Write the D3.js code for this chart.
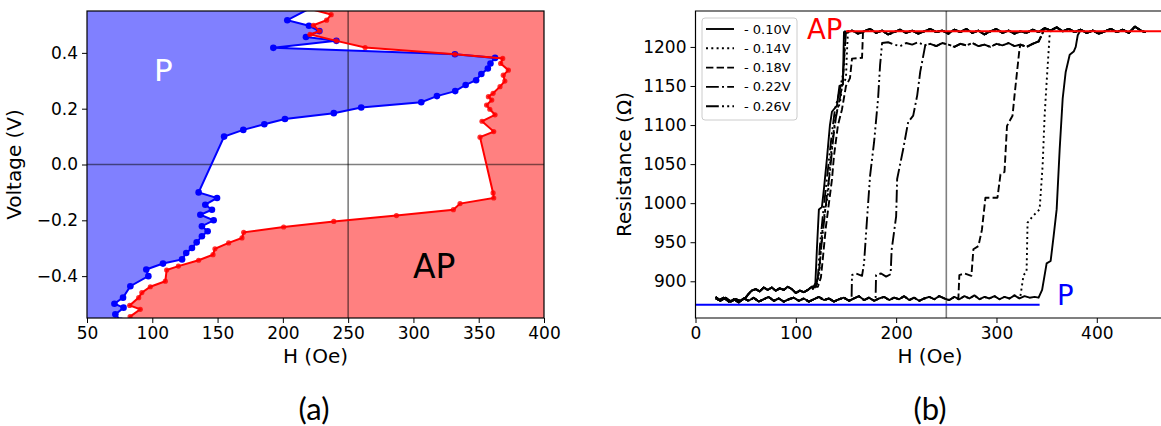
<!DOCTYPE html>
<html><head><meta charset="utf-8">
<script src="https://cdn.jsdelivr.net/npm/d3@7"></script>
<style>
html,body{margin:0;padding:0;background:#fff;}
svg text{font-family:"DejaVu Sans",sans-serif;}
</style></head>
<body>
<svg id="chart" width="1161" height="426"></svg>
<script>
// ---------- Panel (a) data: switching boundaries [H (Oe), V (V)] ----------
const pBoundary = [
  [223,0.565],[203.4,0.517],[220,0.497],[228,0.478],[217.7,0.457],[241,0.443],[192.7,0.418],
  [331.8,0.395],[362.5,0.382],[359,0.362],[357,0.344],[352,0.324],[348,0.302],[340,0.285],
  [332,0.263],[318,0.245],[306,0.223],[260,0.204],[239,0.184],[201.6,0.163],[185.8,0.144],
  [169.7,0.124],[155,0.100],[135.5,-0.100],[149.6,-0.12],[140.6,-0.144],[145.7,-0.162],
  [136.8,-0.18],[147,-0.2],[138,-0.221],[142.4,-0.239],[138,-0.257],[134,-0.279],[130.4,-0.299],
  [126,-0.317],[122.8,-0.340],[108.2,-0.355],[95.4,-0.376],[97,-0.40],[83.2,-0.436],
  [77.6,-0.477],[71,-0.499],[78,-0.513],[71.7,-0.537],[76,-0.56]
];
const apBoundary = [
  [215,0.565],[237,0.537],[233.5,0.517],[223.4,0.499],[228,0.478],[220.8,0.466],[241,0.443],
  [263,0.419],[331.8,0.395],[368.4,0.38],[366.8,0.362],[372.7,0.338],[368.8,0.32],[370,0.299],
  [366.3,0.279],[361,0.255],[357.4,0.243],[360,0.231],[356,0.213],[358.5,0.198],[362.5,0.178],
  [352.5,0.155],[361.5,0.118],[351,0.098],[361,-0.102],[361.5,-0.12],[335.7,-0.14],[330.6,-0.162],
  [287,-0.183],[239,-0.204],[200.6,-0.224],[170,-0.243],[168.7,-0.263],[158.5,-0.281],[148,-0.302],
  [146.5,-0.323],[135.5,-0.343],[120,-0.364],[111,-0.378],[110,-0.418],[98.5,-0.438],[92,-0.459],
  [89.6,-0.477],[82.7,-0.505],[90.8,-0.519],[83,-0.545],[86,-0.57]
];
const xTicksA = [50,100,150,200,250,300,350,400];
const yTicksA = [-0.4,-0.2,0.0,0.2,0.4];

// ---------- Panel (b) data: R (Ohm) vs H (Oe) ----------
const legendLabels = ["- 0.10V","- 0.14V","- 0.18V","- 0.22V","- 0.26V"];
const xTicksB = [0,100,200,300,400];
const yTicksB = [900,950,1000,1050,1100,1150,1200];
const apLevel = 1220, apLineStart = 150;
const pLevel = 870, pLineEnd = 343;

// P-state baseline during the up sweep
const baseLow = [[20,880],[24,876],[28,879],[33,874],[38,877],[43,873],[48,878],[53,875],[58,879],[63,874],
  [68,877],[73,880],[78,875],[83,878],[88,874],[93,877],[98,879],[103,875],[108,878],[113,874],[118,877],
  [123,880],[128,876],[133,878],[138,874],[143,877],[148,879],[153,875],[158,878],[163,881],[168,876],
  [173,879],[178,875],[183,878],[188,880],[193,876],[198,879],[203,877],[208,881],[213,876],[218,879],
  [223,875],[228,878],[233,880],[238,877],[243,881],[248,878],[253,876],[258,880],[263,877],[268,881],
  [273,878],[278,882],[283,877],[288,880],[293,878],[298,881],[303,877],[308,880],[313,878],[318,882],
  [323,878],[328,881],[333,879],[338,880],[343,878]];
// P-state baseline reached during the down sweep
const baseUpper = [[20,878],[25,875],[30,879],[35,874],[40,877],[45,875],[50,879],[53,884],[56,888],
  [60,890],[64,887],[68,892],[72,889],[76,892],[80,888],[84,891],[88,889],[92,893],[96,890],[100,885],
  [104,888],[108,886],[112,889],[116,893]];
// AP plateau
const plateauAP = [[150,1218],[156,1221],[162,1217],[168,1220],[174,1223],[180,1218],[186,1221],[192,1216],
  [198,1219],[204,1222],[210,1218],[216,1221],[222,1217],[228,1220],[234,1223],[240,1219],[246,1221],
  [252,1217],[258,1222],[264,1219],[270,1223],[276,1218],[282,1221],[288,1216],[294,1220],[300,1223],
  [306,1218],[312,1221],[318,1217],[324,1220],[330,1218],[336,1222],[342,1219],[348,1224],[354,1221],
  [360,1225],[366,1220],[372,1223],[378,1219],[384,1222],[390,1218],[396,1221],[402,1217],[408,1220],
  [414,1223],[420,1219],[426,1222],[432,1218],[438,1226],[444,1221],[448,1219]];
// intermediate plateau
const plateauMid = [[186,1207],[192,1206],[198,1203],[204,1201],[210,1205],[216,1203],[222,1206],[228,1202],
  [234,1204],[240,1201],[246,1205],[252,1203],[258,1200],[264,1204],[270,1202],[276,1205],[282,1201],
  [288,1203],[294,1200],[300,1204],[306,1202],[312,1205],[318,1201],[324,1203],[330,1200],[336,1204],
  [342,1207],[345,1215]];

// up-sweep switching (P -> AP)
const up010 = [[342,879],[345.5,889],[350,923],[354,926],[357,958],[360,992],[363,1069],[366,1134],
  [369,1168],[373,1190],[377,1194],[379,1200],[381,1215]];
const up014 = [[323.5,878],[327,908],[330,912],[331,975],[336,983],[343,992],[346,1048],[348,1112],
  [350,1155],[353,1215]];
const up018 = [[262,877],[263,908],[268,910],[275,907],[277,941],[282,945],[285.5,966],[289,1007],
  [301,1007],[304,1037],[308,1040],[310.5,1099],[316,1112],[318,1138],[323,1198]];
const up022 = [[179.5,879],[180,908],[185,910],[190,906],[194.5,909],[195.5,940],[200,983],[201,1031],
  [207,1069],[212,1104],[217,1112],[221,1138],[224,1168],[229,1202]];
const up026 = [[155.6,880],[156,908],[160,910],[166,907],[168,923],[171,980],[174,1035],[178,1078],
  [182,1134],[184,1177],[186,1205]];
// down-sweep switching (AP -> P)
const down010 = [[148,1219],[147.5,1190],[147,1152],[143.5,1150],[141,1125],[136,1117],[134,1100],
  [131,1057],[128,1018],[126,995],[123,992],[121,941],[119.5,898],[117,890]];
const down014 = [[152,1220],[151,1195],[150,1160],[146,1150],[144,1128],[140,1115],[137,1085],[134,1050],
  [132,1010],[129,990],[126,960],[124,920],[122,900],[120,892]];
const down018 = [[167,1220],[166,1186],[156,1185],[154,1160],[150,1150],[146,1120],[142,1100],[138,1060],
  [136,1030],[133,1000],[130,970],[127,930],[125,905],[122,893]];
const down022 = [[149,1220],[148,1175],[146,1150],[144,1135],[140,1110],[137,1080],[134,1040],[131,1010],
  [128,975],[125,940],[123,910],[120,894]];
const down026 = [[150,1220],[149,1200],[147,1165],[143,1140],[139,1120],[136,1090],[133,1055],[130,1020],
  [127,985],[124,945],[122,905],[119,892]];
const upSweeps = [up010, up014, up018, up022, up026];
const downSweeps = [down010, down014, down018, down022, down026];
const viaMidPlateau = [false, false, true, true, true];
const dashes = [null, "2,3.3", "7.4,3.2", "12.8,3.2,2,3.2", "12.8,3.2,2,3.2,2,3.2"];

// ---------- build full loops from the pieces ----------
function buildLoop(i){
  const up = upSweeps[i], down = downSweeps[i];
  let pts = baseLow.filter(d => d[0] < up[0][0]).concat(up);
  const last = up[up.length-1][0];
  if (viaMidPlateau[i]) {
    pts = pts.concat(plateauMid.filter(d => d[0] > last));
    pts = pts.concat(plateauAP.filter(d => d[0] > 345));
  } else {
    pts = pts.concat(plateauAP.filter(d => d[0] > last));
  }
  pts = pts.concat(plateauAP.slice().reverse().filter(d => d[0] > down[0][0]));
  pts = pts.concat(down);
  const dl = down[down.length-1][0];
  pts = pts.concat(baseUpper.slice().reverse().filter(d => d[0] < dl));
  return pts;
}

const svg = d3.select("#chart");
const TICKFONT = 17;

// ================= Panel (a) =================
const A = {l:87, r:544, t:11, b:318};
const xa = d3.scaleLinear().domain([50,400]).range([A.l, A.r]);
const ya = d3.scaleLinear().domain([-0.55,0.55]).range([A.b, A.t]);
svg.append("clipPath").attr("id","clipA").append("rect")
  .attr("x",A.l).attr("y",A.t).attr("width",A.r-A.l).attr("height",A.b-A.t);
const ga = svg.append("g").attr("clip-path","url(#clipA)");
const lineA = d3.line().x(d=>xa(d[0])).y(d=>ya(d[1]));
const blueFill = [[50,pBoundary[0][1]]].concat(pBoundary, [[50,pBoundary[pBoundary.length-1][1]]]);
const redFill = [[400,apBoundary[0][1]]].concat(apBoundary, [[400,apBoundary[apBoundary.length-1][1]]]);
ga.append("path").attr("d", lineA(blueFill)+"Z").attr("fill","#8080ff");
ga.append("path").attr("d", lineA(redFill)+"Z").attr("fill","#ff8080");
ga.append("line").attr("x1",A.l).attr("x2",A.r).attr("y1",ya(0)).attr("y2",ya(0))
  .attr("stroke","#000").attr("stroke-opacity",0.5).attr("stroke-width",1.6);
ga.append("line").attr("x1",xa(250)).attr("x2",xa(250)).attr("y1",A.t).attr("y2",A.b)
  .attr("stroke","#000").attr("stroke-opacity",0.5).attr("stroke-width",1.6);
ga.append("path").attr("d", lineA(pBoundary)).attr("fill","none").attr("stroke","#0000ff").attr("stroke-width",2);
ga.selectAll(".pb").data(pBoundary).enter().append("circle")
  .attr("cx",d=>xa(d[0])).attr("cy",d=>ya(d[1])).attr("r",3.3).attr("fill","#0000ff");
ga.append("path").attr("d", lineA(apBoundary)).attr("fill","none").attr("stroke","#ff0000").attr("stroke-width",2);
ga.selectAll(".ab").data(apBoundary).enter().append("circle")
  .attr("cx",d=>xa(d[0])).attr("cy",d=>ya(d[1])).attr("r",2.6).attr("fill","#ff0000").attr("fill-opacity",0.8);
svg.append("text").attr("x",154).attr("y",81).attr("font-size",31).attr("fill","#fff").text("P");
svg.append("text").attr("x",413).attr("y",278).attr("font-size",33).attr("fill","#000").text("AP");

function styleAxis(g){
  g.select(".domain").remove();
  g.selectAll(".tick line").attr("stroke","#000").attr("stroke-width",1);
  g.selectAll(".tick text").attr("font-size",TICKFONT).attr("font-family","DejaVu Sans").attr("fill","#000");
}
svg.append("g").attr("transform",`translate(0,${A.b})`)
  .call(d3.axisBottom(xa).tickValues(xTicksA).tickSize(5).tickPadding(4).tickFormat(d3.format("d"))).call(styleAxis);
svg.append("g").attr("transform",`translate(${A.l},0)`)
  .call(d3.axisLeft(ya).tickValues(yTicksA).tickSize(5).tickPadding(4).tickFormat(d=>d3.format(".1f")(d).replace("-","\u2212"))).call(styleAxis);
svg.append("rect").attr("x",A.l).attr("y",A.t).attr("width",A.r-A.l).attr("height",A.b-A.t)
  .attr("fill","none").attr("stroke","#000").attr("stroke-width",1.2);
svg.append("text").attr("x",(A.l+A.r)/2).attr("y",363).attr("text-anchor","middle").attr("font-size",20).text("H (Oe)");
svg.append("text").attr("transform",`translate(21,${(A.t+A.b)/2}) rotate(-90)`).attr("text-anchor","middle").attr("font-size",20).text("Voltage (V)");
svg.append("text").attr("x",314).attr("y",420).attr("text-anchor","middle").attr("font-size",31)
  .style("font-family","Lato, 'Open Sans', sans-serif").text("(a)");

// ================= Panel (b) =================
const B = {l:695.5, r:1161, t:11, b:318};
const xb = d3.scaleLinear().domain([0,464]).range([B.l, B.r]);
const yb = d3.scaleLinear().domain([853,1246]).range([B.b, B.t]);
svg.append("clipPath").attr("id","clipB").append("rect")
  .attr("x",B.l).attr("y",B.t).attr("width",B.r-B.l).attr("height",B.b-B.t);
const gb = svg.append("g").attr("clip-path","url(#clipB)");
gb.append("line").attr("x1",xb(250)).attr("x2",xb(250)).attr("y1",B.t).attr("y2",B.b)
  .attr("stroke","#000").attr("stroke-opacity",0.5).attr("stroke-width",1.6);
const lineB = d3.line().x(d=>xb(d[0])).y(d=>yb(d[1]));
for (let i = 0; i < upSweeps.length; i++) {
  const p = gb.append("path").attr("d", lineB(buildLoop(i))).attr("fill","none")
    .attr("stroke","#000").attr("stroke-width",1.9).attr("stroke-linejoin","round");
  if (dashes[i]) p.attr("stroke-dasharray", dashes[i]);
}
gb.append("line").attr("x1",xb(apLineStart)).attr("x2",B.r).attr("y1",yb(apLevel)).attr("y2",yb(apLevel))
  .attr("stroke","#ff0000").attr("stroke-width",2);
gb.append("line").attr("x1",xb(0)).attr("x2",xb(pLineEnd)).attr("y1",yb(pLevel)).attr("y2",yb(pLevel))
  .attr("stroke","#0000ff").attr("stroke-width",2);
svg.append("text").attr("x",807).attr("y",39).attr("font-size",27.5).attr("fill","#ff0000").text("AP");
svg.append("text").attr("x",1057).attr("y",305).attr("font-size",27.5).attr("fill","#0000ff").text("P");

svg.append("g").attr("transform",`translate(0,${B.b})`)
  .call(d3.axisBottom(xb).tickValues(xTicksB).tickSize(5).tickPadding(4).tickFormat(d3.format("d"))).call(styleAxis);
svg.append("g").attr("transform",`translate(${B.l},0)`)
  .call(d3.axisLeft(yb).tickValues(yTicksB).tickSize(5).tickPadding(4).tickFormat(d3.format("d"))).call(styleAxis);
svg.append("path").attr("d",`M${B.r+2},${B.t}H${B.l}V${B.b}H${B.r+2}`).attr("fill","none")
  .attr("stroke","#000").attr("stroke-width",1.2);
svg.append("text").attr("x",930).attr("y",363).attr("text-anchor","middle").attr("font-size",20).text("H (Oe)");
svg.append("text").attr("transform",`translate(631,${(B.t+B.b)/2}) rotate(-90)`).attr("text-anchor","middle").attr("font-size",20).text("Resistance (\u03A9)");
svg.append("text").attr("x",930).attr("y",420).attr("text-anchor","middle").attr("font-size",31)
  .style("font-family","Lato, 'Open Sans', sans-serif").text("(b)");

// legend
const lg = svg.append("g");
lg.append("rect").attr("x",702).attr("y",18).attr("width",95).attr("height",102).attr("rx",3)
  .attr("fill","#fff").attr("fill-opacity",0.85).attr("stroke","#cccccc").attr("stroke-width",1);
legendLabels.forEach((lab,i) => {
  const y = 29 + i*19.3;
  const l = lg.append("line").attr("x1",706).attr("x2",734).attr("y1",y).attr("y2",y)
    .attr("stroke","#000").attr("stroke-width",1.9);
  if (dashes[i]) l.attr("stroke-dasharray", dashes[i]);
  lg.append("text").attr("x",744).attr("y",y+4.5).attr("font-size",13).text(lab);
});
</script>
</body></html>
